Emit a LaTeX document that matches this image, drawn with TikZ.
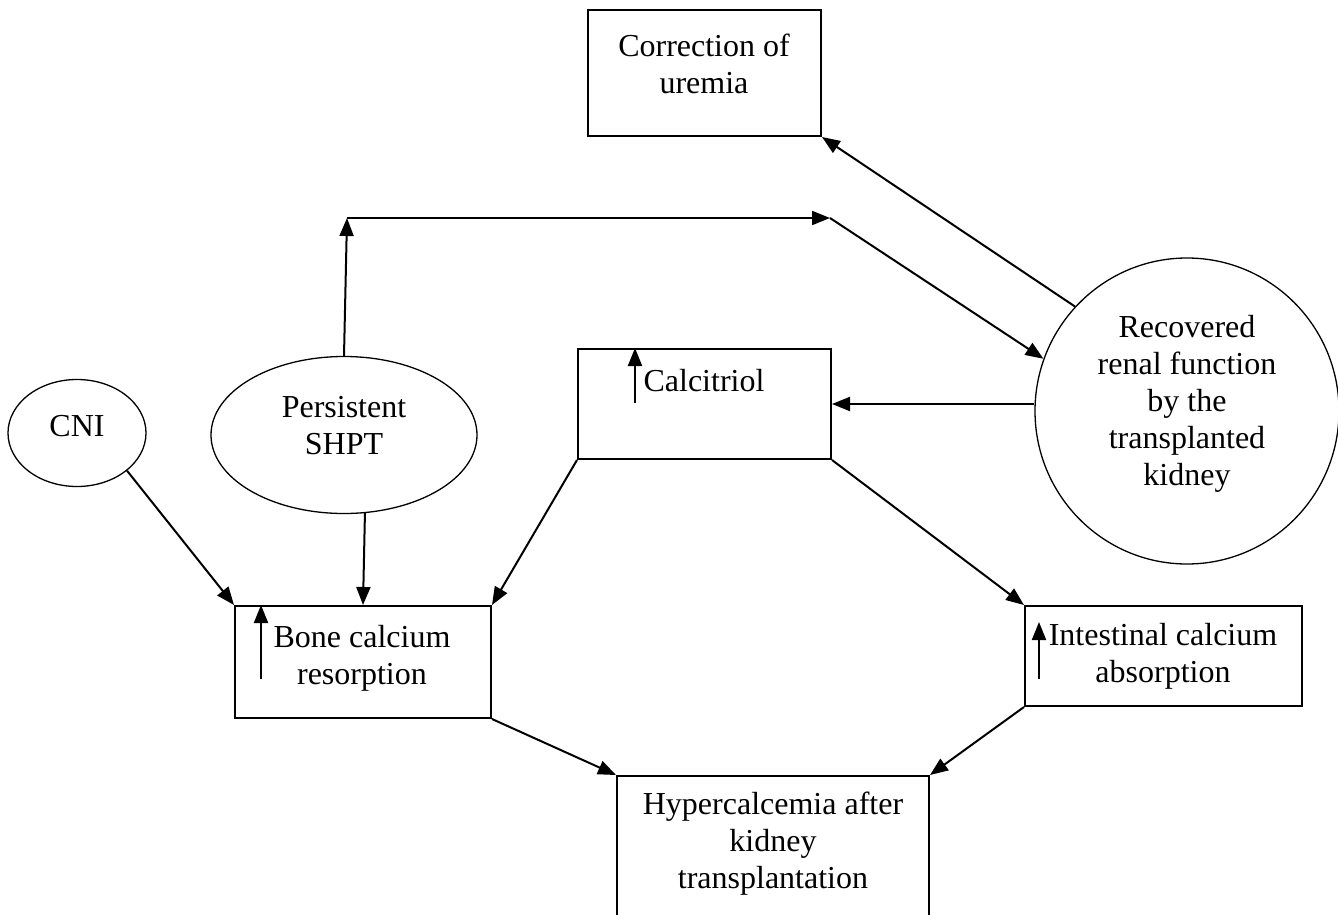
\documentclass[tikz,border=0pt]{standalone}
\usepackage{fontspec}
\setmainfont{Liberation Serif}
\usetikzlibrary{arrows.meta,shapes.geometric}

\begin{document}
\begin{tikzpicture}[x=0.5pt,y=-0.5pt,font=\fontsize{16}{18.5}\selectfont]

        \path[use as bounding box,clip] (0,0) rectangle (1338,915);

        \begin{scope}[every node/.style={rectangle,draw,line width=1pt,inner sep=0pt}]
          \node[minimum width=116.5pt,minimum height=63pt] (corr)  at (704.5,73)   {};
          \node[minimum width=126.5pt,minimum height=55pt] (calc)  at (704.5,404)  {};
          \node[minimum width=128pt,minimum height=56pt]   (bone)  at (363,662)    {};
          \node[minimum width=138.5pt,minimum height=50pt] (intes) at (1163.5,656) {};
          \node[minimum width=156pt,minimum height=82pt]   (hyper) at (773,858)    {};
        \end{scope}

        \begin{scope}[every node/.style={ellipse,draw,line width=.65pt,inner sep=0pt}]
          \node[minimum width=69pt,minimum height=53.5pt] (cni)   at (77,433)   {};
          \node[minimum width=133pt,minimum height=78.5pt] (shpt) at (344,435)  {};
          \node[minimum width=152pt,minimum height=153pt] (renal) at (1187,411) {};
        \end{scope}

        \begin{scope}[every node/.style={align=center,inner sep=0pt}]
          \node (corrtxt)  at (704,64)   {Correction of\\uremia};
          \node (calctxt)  at (704,381)  {Calcitriol};
          \node (cnitxt)   at (77,426)   {CNI};
          \node (shpttxt)  at (344,426)  {Persistent\\SHPT};
          \node (renaltxt) at (1187,404) {Recovered\\renal function\\by the\\transplanted\\kidney};
          \node (bonetxt)  at (362,658)  {Bone calcium\\resorption};
          \node (intestxt) at (1163,656) {Intestinal calcium\\absorption};
          \node (hypertxt) at (773,844)  {Hypercalcemia after\\kidney\\transplantation};
        \end{scope}

        \coordinate (bendl)    at (347,218);
        \coordinate (bendr)    at (830,218);
        \coordinate (calcup)   at (635,403);
        \coordinate (boneup)   at (261,679);
        \coordinate (intesup)  at (1039,679);
        \coordinate (intestip) at (1039,622);

        \begin{scope}[every edge/.style={draw,line width=1pt,-{Triangle[length=9pt,width=7pt]}}]
          \path (shpt.north)  edge (bendl);
          \path (bendl)       edge (bendr);
          \path (bendr)       edge (renal.160);
          \path (renal.137)   edge (corr.south east);
          \path (renal.west |- calc.east) edge (calc.east);
          \path (cni.-37)     edge (bone.north west);
          \path (shpt.-75)    edge (bone.north);
          \path (calc.south west) edge (bone.north east);
          \path (calc.south east) edge (intes.north west);
          \path (bone.south east) edge (hyper.north west);
          \path (intes.south west) edge (hyper.north east);
          \path (calcup)      edge (calc.north -| calcup);
          \path (boneup)      edge (bone.north -| boneup);
          \path (intesup)     edge (intestip);
        \end{scope}

      \end{tikzpicture}
\end{document}
